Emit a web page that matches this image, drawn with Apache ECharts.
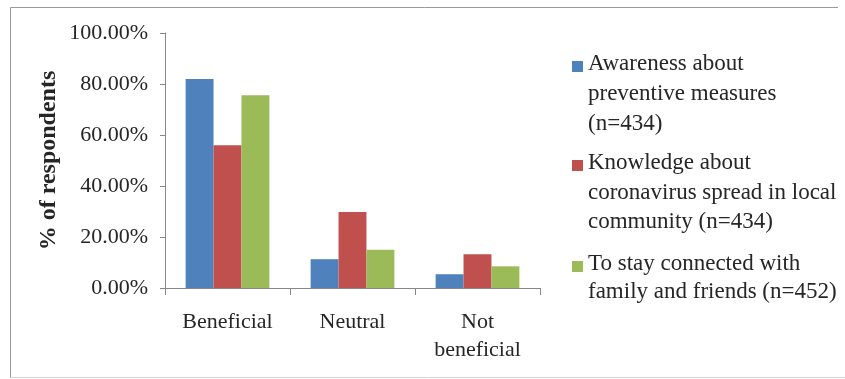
<!DOCTYPE html>
<html>
<head>
<meta charset="utf-8">
<style>
  html, body { margin: 0; padding: 0; background: #ffffff; }
  #chart { width: 845px; height: 379px; }
</style>
<script src="https://cdn.jsdelivr.net/npm/echarts@6/dist/echarts.min.js"></script>
</head>
<body>
<div id="chart"></div>
<script>
// Response categories on the x axis
const categories = ['Beneficial', 'Neutral', 'Not\nbeneficial'];

// Share of respondents (%) for each purpose
const awarenessValues = [82.0, 11.3, 5.4];
const knowledgeValues = [56.0, 29.8, 13.2];
const connectedValues = [75.6, 15.0, 8.5];

// Series names (shown in the legend)
const seriesNames = [
  'Awareness about\npreventive measures\n(n=434)',
  'Knowledge about\ncoronavirus spread in local\ncommunity (n=434)',
  'To stay connected with\nfamily and friends (n=452)'
];

// Y axis settings
const yMin = 0, yMax = 100, yStep = 20;
const yTitle = '% of respondents';

const colors = ['#4F81BD', '#C0504D', '#9BBB59'];
const serif = '"Liberation Serif", "Times New Roman", serif';
const textColor = '#262626';
const legendFont = 23;

// Square legend marker sitting beside the first text line of a multi-line entry
function markerPath(lines, lh) {
  const h = lines * lh;
  const c = lh / 2 + 2.3;
  return 'path://M0,' + (c - 5.5) + 'h11v11h-11Z' +
         'M0,0h0.01v0.01h-0.01Z' +
         'M0,' + (h - 0.01) + 'h0.01v0.01h-0.01Z';
}

function legendFor(i, top, lh) {
  const lines = seriesNames[i].split('\n').length;
  return {
    data: [seriesNames[i]],
    left: 572,
    top: top,
    padding: 0,
    orient: 'vertical',
    icon: markerPath(lines, lh),
    itemWidth: 11,
    itemHeight: lines * lh,
    selectedMode: false,
    textStyle: { fontFamily: serif, fontSize: legendFont, lineHeight: lh, color: textColor }
  };
}

const chart = echarts.init(document.getElementById('chart'), null, { renderer: 'canvas' });

chart.setOption({
  animation: false,
  color: colors,
  grid: { left: 165, right: 305, top: 33, bottom: 91, containLabel: false },
  legend: [
    legendFor(0, 49.2, 30),
    legendFor(1, 148.5, 29.5),
    legendFor(2, 250.5, 27.5)
  ],
  xAxis: {
    type: 'category',
    data: categories,
    axisLine: { lineStyle: { color: '#888888', width: 1 } },
    axisTick: { show: true, length: 7, lineStyle: { color: '#888888' } },
    axisLabel: { fontFamily: serif, fontSize: 22, lineHeight: 28, color: textColor, margin: 20 }
  },
  yAxis: {
    type: 'value',
    min: yMin,
    max: yMax,
    interval: yStep,
    name: yTitle,
    nameLocation: 'middle',
    nameRotate: 90,
    nameGap: 104,
    nameTextStyle: { fontFamily: serif, fontSize: 24, fontWeight: 'bold', color: textColor },
    splitLine: { show: false },
    axisLine: { show: true, lineStyle: { color: '#888888', width: 1 } },
    axisTick: { show: true, length: 5, lineStyle: { color: '#888888' } },
    axisLabel: {
      fontFamily: serif, fontSize: 22, color: textColor, margin: 17,
      formatter: v => v.toFixed(2) + '%'
    }
  },
  series: [
    { name: seriesNames[0], type: 'bar', data: awarenessValues, barGap: '0%', barCategoryGap: '33%' },
    { name: seriesNames[1], type: 'bar', data: knowledgeValues, barGap: '0%', barCategoryGap: '33%' },
    { name: seriesNames[2], type: 'bar', data: connectedValues, barGap: '0%', barCategoryGap: '33%' }
  ],
  graphic: [
    { type: 'line', silent: true, shape: { x1: 10.5, y1: 7.5, x2: 838, y2: 7.5 }, style: { stroke: '#9a9a9a', lineWidth: 1 } },
    { type: 'line', silent: true, shape: { x1: 10.5, y1: 7.5, x2: 10.5, y2: 378 }, style: { stroke: '#9a9a9a', lineWidth: 1 } },
    { type: 'line', silent: true, shape: { x1: 10.5, y1: 377.5, x2: 845, y2: 377.5 }, style: { stroke: '#d4d4d4', lineWidth: 1 } }
  ]
});
</script>
</body>
</html>
